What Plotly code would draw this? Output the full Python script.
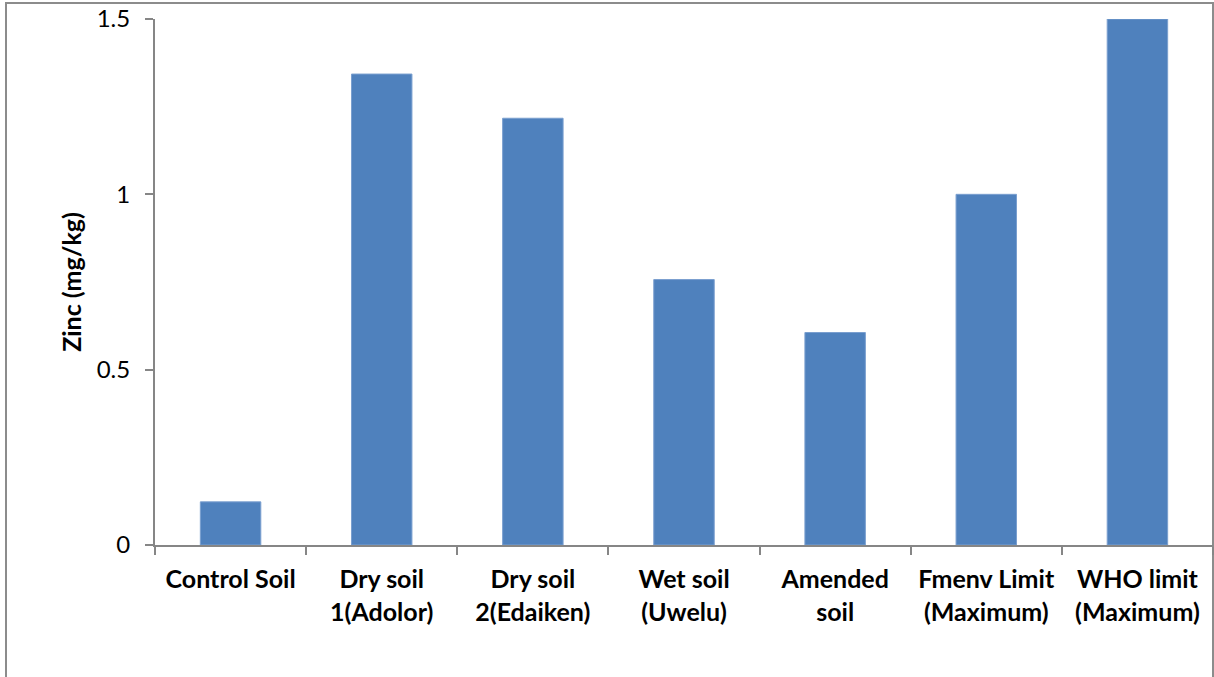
import plotly.graph_objects as go

categories = ["Control Soil", "Dry soil<br>1(Adolor)", "Dry soil<br>2(Edaiken)", "Wet soil<br>(Uwelu)",
              "Amended<br>soil", "Fmenv Limit<br>(Maximum)", "WHO limit<br>(Maximum)"]
zinc = [0.123, 1.343, 1.217, 0.757, 0.606, 1.0, 1.5]
y_ticks = [0, 0.5, 1, 1.5]
y_tick_labels = ["0", "0.5", "1", "1.5"]

W, H = 1214, 677
L, R, T = 155, 1, 19
B = H - 545
pw = W - L - R
ph = H - T - B


def px_x(xs):
    return (xs - L) / pw


def px_y(ys):
    return (T + ph - ys) / ph


grey = "#868686"
fig = go.Figure(go.Bar(x=categories, y=zinc, marker=dict(color="#4F81BD", line=dict(color="#7A9FCF", width=1))))

fig.update_layout(
    width=W, height=H,
    margin=dict(l=L, r=R, t=T, b=B, autoexpand=False),
    paper_bgcolor="white", plot_bgcolor="white",
    bargap=0.6,
    showlegend=False,
    font=dict(family="Lato", color="black"),
    shapes=[dict(type="rect", xref="paper", yref="paper",
                 x0=px_x(6), x1=px_x(1213), y0=px_y(700), y1=px_y(3),
                 line=dict(color="#8C8C8C", width=2), layer="below")],
)
fig.update_xaxes(
    showline=True, linecolor=grey, linewidth=2,
    ticks="outside", tickson="boundaries", ticklen=8, tickcolor=grey, tickwidth=2,
    tickfont=dict(family="Lato", size=25, color="black", weight="bold"),
    ticklabelstandoff=11,
    showgrid=False,
)
fig.update_yaxes(
    range=[0, 1.5], tickvals=y_ticks, ticktext=y_tick_labels,
    showline=True, linecolor=grey, linewidth=2,
    ticks="outside", ticklen=8, tickcolor=grey, tickwidth=2,
    tickfont=dict(family="Lato", size=24, color="black"),
    ticklabelstandoff=10,
    showgrid=False, zeroline=False,
    title=dict(text="Zinc (mg/kg)", font=dict(family="Lato", size=25, color="black", weight="bold"), standoff=8),
)
fig.write_html("out.html", config={"displayModeBar": False},
               post_script="document.body.style.margin='0';")
